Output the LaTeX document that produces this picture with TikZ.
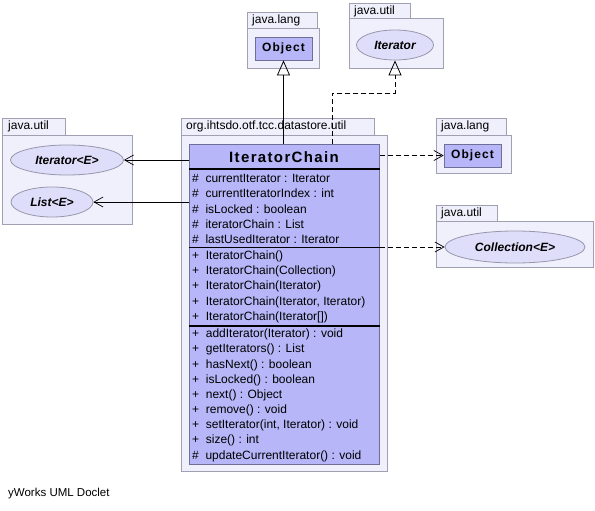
\documentclass[tikz,border=0pt]{standalone}
\usepackage{fontspec}
\setmainfont{Liberation Sans}
\newfontfamily\spacedsans[LetterSpace=9]{Liberation Sans}
\usetikzlibrary{arrows.meta,shapes.geometric}
\definecolor{pkgfill}{RGB}{240,240,252}
\definecolor{pkgdraw}{RGB}{160,160,178}
\definecolor{clsfill}{RGB}{182,182,248}
\definecolor{clsdraw}{RGB}{110,110,150}
\definecolor{ellfill}{RGB}{222,222,250}
\definecolor{elldraw}{RGB}{150,150,172}
\tikzset{
  pkg/.style={fill=pkgfill,draw=pkgdraw,line width=0.8pt},
  pkglabel/.style={anchor=west,inner sep=0pt,font=\fontsize{12}{14}\selectfont},
  clsbox/.style={fill=clsfill,draw=clsdraw,line width=0.8pt,inner sep=0pt},
  smallcls/.style={clsbox,font=\spacedsans\bfseries\fontsize{12}{14}\selectfont},
  iface/.style={ellipse,fill=ellfill,draw=elldraw,line width=0.8pt,inner sep=0pt,font=\bfseries\itshape\fontsize{12}{14}\selectfont},
  member/.style={anchor=west,inner sep=0pt,font=\fontsize{12}{14}\selectfont},
  sepline/.style={line width=1.2pt,black},
  gen/.style={-{Triangle[open,length=15pt,width=13pt]},line width=0.8pt,black},
  dep/.style={-{Straight Barb[length=9pt,width=10pt,line width=0.7pt]},line width=0.8pt,black},
  dsh/.style={dash pattern=on 5pt off 3pt}
}
\begin{document}
\begin{tikzpicture}[x=1pt,y=-1pt]
\useasboundingbox (0,0) rectangle (595,511);
% top java.lang
\draw[pkg] (247,12) rectangle (317,28);
\draw[pkg] (247,28) rectangle (319,68);
\node[pkglabel] (tl1) at (252,20) {java.lang};
\node[smallcls,minimum width=57pt,minimum height=23pt] (objTop) at (283.5,48.5) {Object};
% top java.util
\draw[pkg] (349,3) rectangle (410,18);
\draw[pkg] (349,18) rectangle (443,68);
\node[pkglabel] (tl2) at (354,11) {java.util};
\node[iface,minimum width=77pt,minimum height=30pt] (iterTop) at (395,45) {Iterator};
% left java.util
\draw[pkg] (2,118) rectangle (65,135);
\draw[pkg] (2,135) rectangle (132,224);
\node[pkglabel] (tl3) at (8,126.5) {java.util};
\node[iface,minimum width=113pt,minimum height=30pt] (iterE) at (67,160) {Iterator<E>};
\node[iface,minimum width=82pt,minimum height=30pt] (listE) at (52,202) {List<E>};
% main package
\draw[pkg] (181,118) rectangle (374,135);
\draw[pkg] (181,135) rectangle (387,471);
\node[pkglabel] (tl4) at (186,126.5) {org.ihtsdo.otf.tcc.datastore.util};
% right java.lang
\draw[pkg] (436,118) rectangle (506,135);
\draw[pkg] (436,135) rectangle (511,173);
\node[pkglabel] (tl5) at (441,126.5) {java.lang};
\node[smallcls,minimum width=57pt,minimum height=23pt] (objR) at (472.5,155.5) {Object};
% right java.util
\draw[pkg] (436,205) rectangle (497,221);
\draw[pkg] (436,221) rectangle (593,267);
\node[pkglabel] (tl6) at (441,213) {java.util};
\node[iface,minimum width=140pt,minimum height=32pt] (coll) at (515,247) {Collection<E>};
% class
\node[clsbox,anchor=north west,minimum width=190pt,minimum height=320pt] (cls) at (189,144) {};
\node[inner sep=0pt,font=\spacedsans\bfseries\fontsize{15}{18}\selectfont] (title) at (284,157) {IteratorChain};
\draw[sepline] (cls.west |- 0,169) coordinate (s1a) -- (cls.east |- s1a);
\draw[sepline] (cls.west |- 0,247.5) coordinate (s2a) -- (cls.east |- s2a);
\draw[sepline] (cls.west |- 0,326) coordinate (s3a) -- (cls.east |- s3a);
\node[member] (a1) at (192,178) {\#\ \ currentIterator : Iterator};
\node[member] (a2) at (192,193.5) {\#\ \ currentIteratorIndex : int};
\node[member] (a3) at (192,209) {\#\ \ isLocked : boolean};
\node[member] (a4) at (192,224) {\#\ \ iteratorChain : List};
\node[member] (a5) at (192,239) {\#\ \ lastUsedIterator : Iterator};
\node[member] (c1) at (192,256.5) {+\ \ IteratorChain()};
\node[member] (c2) at (192,271.5) {+\ \ IteratorChain(Collection)};
\node[member] (c3) at (192,286.5) {+\ \ IteratorChain(Iterator)};
\node[member] (c4) at (192,302) {+\ \ IteratorChain(Iterator, Iterator)};
\node[member] (c5) at (192,317) {+\ \ IteratorChain(Iterator[])};
\node[member] (m1) at (192,334.5) {+\ \ addIterator(Iterator) : void};
\node[member] (m2) at (192,349.5) {+\ \ getIterators() : List};
\node[member] (m3) at (192,365) {+\ \ hasNext() : boolean};
\node[member] (m4) at (192,380) {+\ \ isLocked() : boolean};
\node[member] (m5) at (192,395) {+\ \ next() : Object};
\node[member] (m6) at (192,410) {+\ \ remove() : void};
\node[member] (m7) at (192,425.5) {+\ \ setIterator(int, Iterator) : void};
\node[member] (m8) at (192,440.5) {+\ \ size() : int};
\node[member] (m9) at (192,456) {\#\ \ updateCurrentIterator() : void};
% connectors
\draw[gen] (cls.north -| objTop.south) -- (objTop.south);
\coordinate (bend) at (332,93);
\draw[gen,dsh] (cls.north -| bend) -- (bend) -| (iterTop.south);
\draw[dep] (cls.west |- iterE.east) -- (iterE.east);
\draw[dep] (cls.west |- listE.east) -- (listE.east);
\draw[dep,dsh] (cls.east |- objR.west) -- (objR.west);
\draw[dep,dsh] (cls.east |- coll.west) -- (coll.west);
% footer
\node[anchor=west,inner sep=0pt,font=\fontsize{11.5}{14}\selectfont] (foot) at (8,494) {yWorks UML Doclet};
\end{tikzpicture}
\end{document}
